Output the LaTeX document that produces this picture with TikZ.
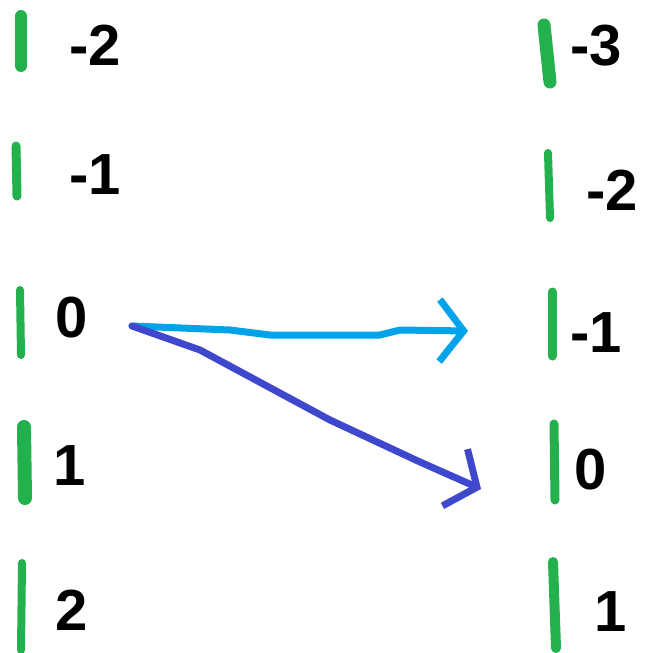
\documentclass[tikz,border=0pt]{standalone}
\usepackage{fontspec}
\setmainfont{Liberation Sans}
\usetikzlibrary{arrows.meta}
\definecolor{pgreen}{HTML}{22B14C}
\definecolor{plblue}{HTML}{00A2E8}
\definecolor{pdblue}{HTML}{3F48CC}
\tikzset{
  bar/.style={draw=pgreen, line width=#1, line cap=round},
  bar/.default=11pt,
  num/.style={font=\fontsize{58}{60}\selectfont\bfseries, text=black, inner sep=0pt, anchor=center},
  arr/.style={line width=7pt, line cap=round, line join=round,
    -{Straight Barb[length=24pt, width=62pt, line width=7pt]}},
}
\begin{document}
\begin{tikzpicture}[x=1pt,y=-1pt]
\useasboundingbox (0,0) rectangle (647,653);
% left column bars
\draw[bar=12pt] (21,16) -- (21,66);
\draw[bar=9pt] (16,146) -- (17,196);
\draw[bar=8pt] (20,290) -- (21,355);
\draw[bar=14pt] (24,427) -- (25,498);
\draw[bar=8pt] (22,563) -- (21,650);
% left labels
\node[num] (lm2) at (95,45) {-2};
\node[num] (lm1) at (95,175) {-1};
\node[num] (l0) at (72,318) {0};
\node[num] (l1) at (70,466) {1};
\node[num] (l2) at (72,610) {2};
% right column bars
\draw[bar=13pt] (544,25) -- (550,82);
\draw[bar=8pt] (548,153) -- (550,218);
\draw[bar=9pt] (552,292) -- (552,356);
\draw[bar=9pt] (554,424) -- (555,500);
\draw[bar=10pt] (553,562) -- (556,648);
% right labels
\node[num] (rm3) at (596,46) {-3};
\node[num] (rm2) at (612,190) {-2};
\node[num] (rm1) at (596,333) {-1};
\node[num] (r0) at (591,470) {0};
\node[num] (r1) at (611,612) {1};
% arrows
\coordinate (s) at (132,326);
\coordinate (e1) at (468,331);
\coordinate (e2) at (481,489);
\draw[arr, draw=plblue] (s) -- (230,330) -- (270,335) -- (380,335) -- (400,330) -- (e1);
\draw[arr, draw=pdblue] (s) -- (200,350) -- (330,420) -- (420,462) -- (e2);
\end{tikzpicture}
\end{document}
